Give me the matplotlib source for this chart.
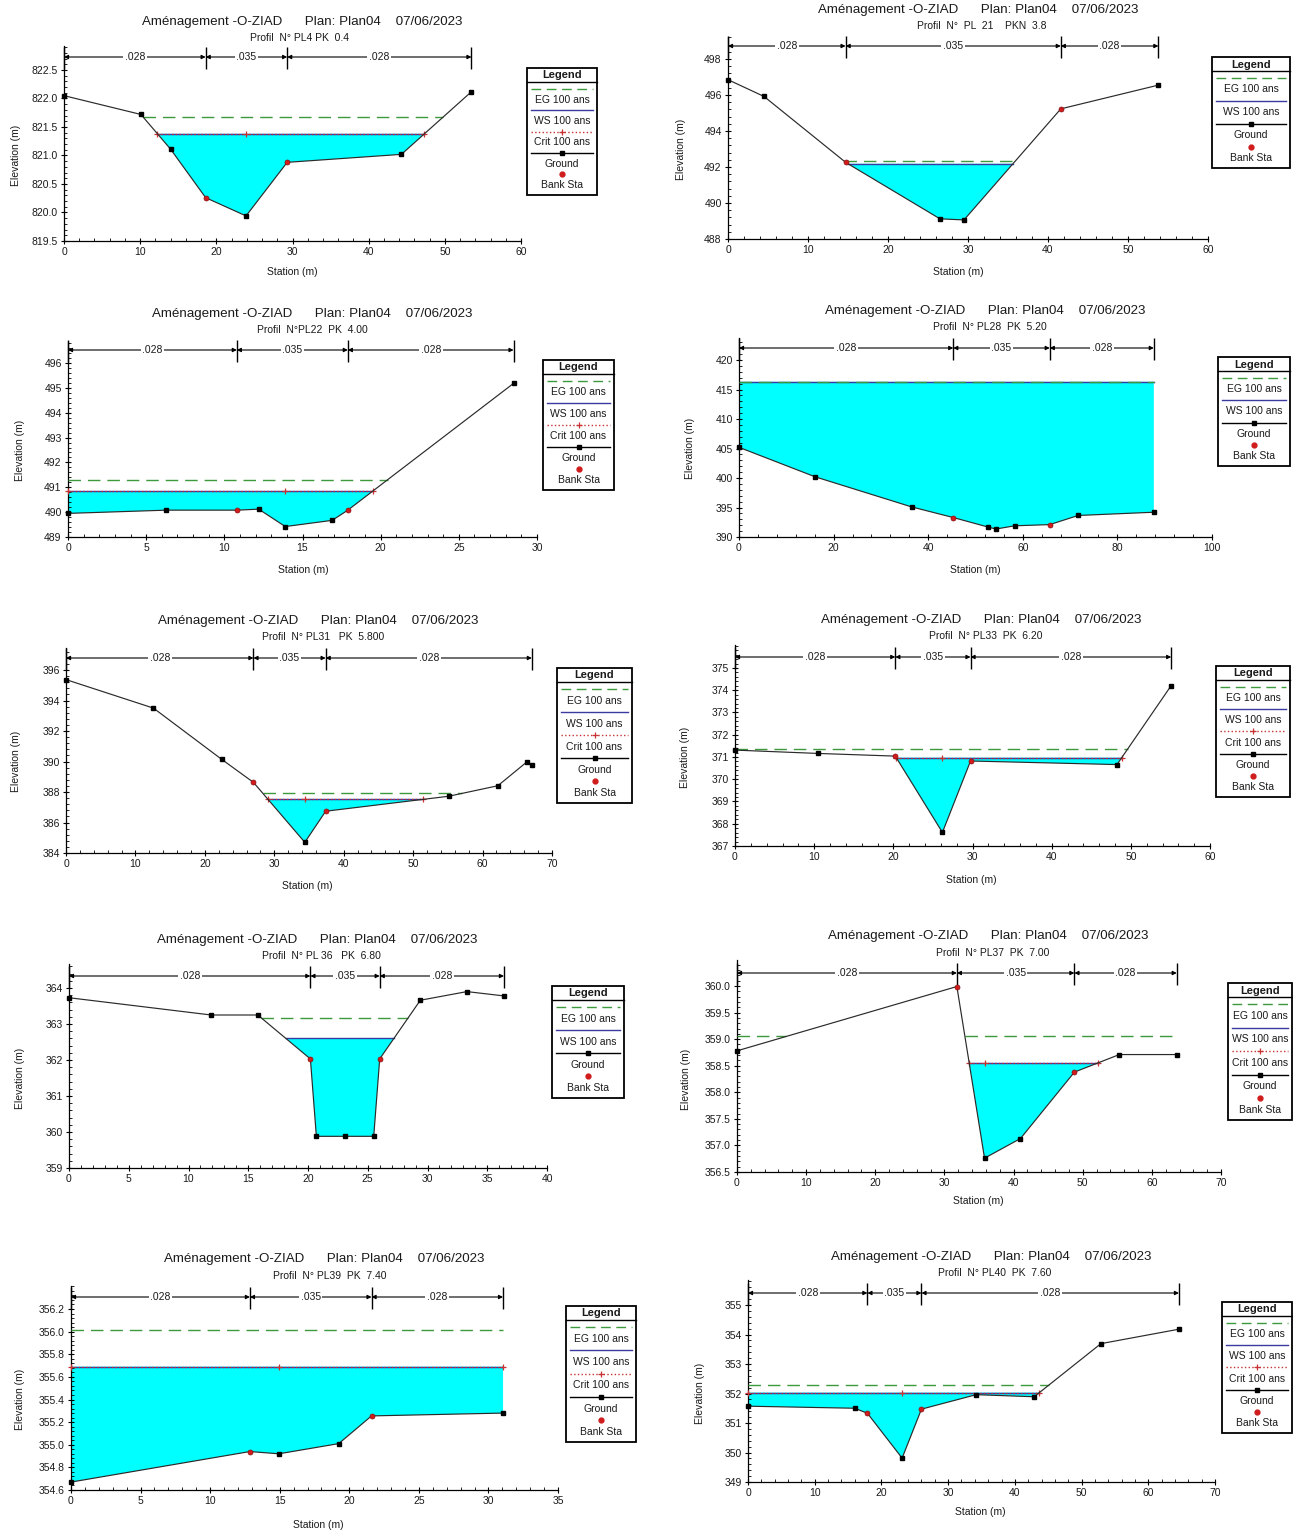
import numpy as np
import matplotlib
matplotlib.use('Agg')
import matplotlib.pyplot as plt
from matplotlib.ticker import AutoMinorLocator, FormatStrFormatter
from matplotlib.patches import Rectangle
from matplotlib import font_manager

W, H = 1293, 1531
names = {f.name for f in font_manager.fontManager.ttflist}
FONT = 'Liberation Sans Narrow' if 'Liberation Sans Narrow' in names else 'Liberation Sans'
plt.rcParams['font.family'] = [FONT, 'DejaVu Sans']

TITLE = "Aménagement -O-ZIAD      Plan: Plan04    07/06/2023"
N_LABELS = ['.028', '.035', '.028']

# ---------------- data ----------------
p1_station = [0, 10.1, 14.0, 18.6, 23.9, 29.3, 44.3, 53.5]
p1_elev = [822.05, 821.72, 821.11, 820.26, 819.94, 820.88, 821.02, 822.12]
p1_banks = [18.6, 29.3]
p1_eg, p1_ws, p1_crit = 821.68, 821.38, 821.38
p1_sub = "Profil  N° PL4 PK  0.4"
p1_xticks = [0, 10, 20, 30, 40, 50, 60]
p1_yticks = [819.5, 820.0, 820.5, 821.0, 821.5, 822.0, 822.5]

p2_station = [0, 4.5, 14.7, 26.5, 29.5, 41.6, 53.8]
p2_elev = [496.85, 495.92, 492.26, 489.12, 489.06, 495.23, 496.55]
p2_banks = [14.7, 41.6]
p2_eg, p2_ws, p2_crit = 492.31, 492.18, None
p2_sub = "Profil  N°  PL  21    PKN  3.8"
p2_xticks = [0, 10, 20, 30, 40, 50, 60]
p2_yticks = [488, 490, 492, 494, 496, 498]

p3_station = [0, 6.3, 10.8, 12.2, 13.9, 16.9, 17.9, 28.5]
p3_elev = [489.95, 490.08, 490.08, 490.12, 489.42, 489.67, 490.08, 495.18]
p3_banks = [10.8, 17.9]
p3_eg, p3_ws, p3_crit = 491.31, 490.84, 490.84
p3_sub = "Profil  N°PL22  PK  4.00"
p3_xticks = [0, 5, 10, 15, 20, 25, 30]
p3_yticks = [489, 490, 491, 492, 493, 494, 495, 496]

p4_station = [0, 16.1, 36.5, 45.3, 52.6, 54.3, 58.3, 65.7, 71.7, 87.7]
p4_elev = [405.2, 400.2, 395.1, 393.3, 391.7, 391.35, 391.9, 392.1, 393.65, 394.2]
p4_banks = [45.3, 65.7]
p4_eg, p4_ws, p4_crit = 416.35, 416.3, None
p4_sub = "Profil  N° PL28  PK  5.20"
p4_xticks = [0, 20, 40, 60, 80, 100]
p4_yticks = [390, 395, 400, 405, 410, 415, 420]

p5_station = [0, 12.6, 22.4, 27.0, 34.4, 37.4, 55.1, 62.2, 66.4, 67.1]
p5_elev = [395.37, 393.5, 390.15, 388.63, 384.7, 386.74, 387.72, 388.41, 389.98, 389.8]
p5_banks = [27.0, 37.4]
p5_eg, p5_ws, p5_crit = 387.91, 387.52, 387.52
p5_sub = "Profil  N° PL31   PK  5.800"
p5_xticks = [0, 10, 20, 30, 40, 50, 60, 70]
p5_yticks = [384, 386, 388, 390, 392, 394, 396]

p6_station = [0, 10.5, 20.25, 26.2, 29.75, 48.25, 55.1]
p6_elev = [371.31, 371.16, 371.04, 367.61, 370.82, 370.66, 374.21]
p6_banks = [20.25, 29.75]
p6_eg, p6_ws, p6_crit = 371.36, 370.97, 370.97
p6_sub = "Profil  N° PL33  PK  6.20"
p6_xticks = [0, 10, 20, 30, 40, 50, 60]
p6_yticks = [367, 368, 369, 370, 371, 372, 373, 374, 375]

p7_station = [0, 11.9, 15.8, 20.2, 20.7, 23.1, 25.5, 26.0, 29.4, 33.3, 36.4]
p7_elev = [363.73, 363.25, 363.25, 362.03, 359.88, 359.88, 359.88, 362.03, 363.66, 363.9, 363.78]
p7_banks = [20.2, 26.0]
p7_eg, p7_ws, p7_crit = 363.17, 362.6, None
p7_sub = "Profil  N° PL 36   PK  6.80"
p7_xticks = [0, 5, 10, 15, 20, 25, 30, 35, 40]
p7_yticks = [359, 360, 361, 362, 363, 364]

p8_station = [0, 31.8, 35.8, 41.0, 48.8, 55.3, 63.6]
p8_elev = [358.78, 359.99, 356.76, 357.13, 358.38, 358.71, 358.71]
p8_banks = [31.8, 48.8]
p8_eg, p8_ws, p8_crit = 359.05, 358.55, 358.55
p8_sub = "Profil  N° PL37  PK  7.00"
p8_xticks = [0, 10, 20, 30, 40, 50, 60, 70]
p8_yticks = [356.5, 357.0, 357.5, 358.0, 358.5, 359.0, 359.5, 360.0]

p9_station = [0, 12.86, 14.94, 19.24, 21.6, 31.05]
p9_elev = [354.67, 354.94, 354.92, 355.01, 355.255, 355.28]
p9_banks = [12.86, 21.6]
p9_eg, p9_ws, p9_crit = 356.01, 355.69, 355.69
p9_sub = "Profil  N° PL39  PK  7.40"
p9_xticks = [0, 5, 10, 15, 20, 25, 30, 35]
p9_yticks = [354.6, 354.8, 355.0, 355.2, 355.4, 355.6, 355.8, 356.0, 356.2]

p10_station = [0, 16.0, 17.9, 23.1, 26.0, 34.2, 42.9, 52.9, 64.6]
p10_elev = [351.57, 351.5, 351.33, 349.81, 351.47, 351.96, 351.89, 353.69, 354.18]
p10_banks = [17.9, 26.0]
p10_eg, p10_ws, p10_crit = 352.30, 352.03, 352.03
p10_sub = "Profil  N° PL40  PK  7.60"
p10_xticks = [0, 10, 20, 30, 40, 50, 60, 70]
p10_yticks = [349, 350, 351, 352, 353, 354, 355]

PANELS = [
    (p1_station, p1_elev, p1_banks, p1_eg, p1_ws, p1_crit, p1_sub, p1_xticks, p1_yticks, '%.1f'),
    (p2_station, p2_elev, p2_banks, p2_eg, p2_ws, p2_crit, p2_sub, p2_xticks, p2_yticks, '%d'),
    (p3_station, p3_elev, p3_banks, p3_eg, p3_ws, p3_crit, p3_sub, p3_xticks, p3_yticks, '%d'),
    (p4_station, p4_elev, p4_banks, p4_eg, p4_ws, p4_crit, p4_sub, p4_xticks, p4_yticks, '%d'),
    (p5_station, p5_elev, p5_banks, p5_eg, p5_ws, p5_crit, p5_sub, p5_xticks, p5_yticks, '%d'),
    (p6_station, p6_elev, p6_banks, p6_eg, p6_ws, p6_crit, p6_sub, p6_xticks, p6_yticks, '%d'),
    (p7_station, p7_elev, p7_banks, p7_eg, p7_ws, p7_crit, p7_sub, p7_xticks, p7_yticks, '%d'),
    (p8_station, p8_elev, p8_banks, p8_eg, p8_ws, p8_crit, p8_sub, p8_xticks, p8_yticks, '%.1f'),
    (p9_station, p9_elev, p9_banks, p9_eg, p9_ws, p9_crit, p9_sub, p9_xticks, p9_yticks, '%.1f'),
    (p10_station, p10_elev, p10_banks, p10_eg, p10_ws, p10_crit, p10_sub, p10_xticks, p10_yticks, '%d'),
]

# ---------------- layout (pixels) ----------------
LAYOUT = [
    dict(L=64, R=521, B=241, Tt=70, Top=46, arrow=57, title=(302, 22), sub=(300, 38), elev_x=16, stat=(292, 272), legend=(527, 597, 68, 195)),
    dict(L=728, R=1208, B=239, Tt=59, Top=37, arrow=46, title=(978, 10), sub=(982, 26), elev_x=681, stat=(958, 272), legend=(1212, 1290, 57, 168)),
    dict(L=68, R=537, B=537, Tt=363, Top=342, arrow=350, title=(312, 314), sub=(312, 330), elev_x=20, stat=(303, 570), legend=(543, 614, 360, 490)),
    dict(L=739, R=1212, B=537, Tt=360, Top=338, arrow=348, title=(985, 311), sub=(990, 327), elev_x=690, stat=(975, 570), legend=(1218, 1290, 357, 466)),
    dict(L=66, R=552, B=853, Tt=670, Top=648, arrow=658, title=(318, 621), sub=(323, 637), elev_x=16, stat=(307, 886), legend=(557, 632, 668, 803)),
    dict(L=735, R=1210, B=846, Tt=668, Top=645, arrow=657, title=(981, 620), sub=(986, 636), elev_x=685, stat=(971, 880), legend=(1216, 1290, 666, 797)),
    dict(L=69, R=547, B=1168, Tt=988, Top=964, arrow=976, title=(317, 940), sub=(321, 956), elev_x=20, stat=None, legend=(552, 624, 986, 1098)),
    dict(L=737, R=1221, B=1172, Tt=986, Top=960, arrow=973, title=(988, 936), sub=(993, 953), elev_x=686, stat=(978, 1201), legend=(1228, 1292, 983, 1120)),
    dict(L=71, R=558, B=1490, Tt=1309, Top=1286, arrow=1297, title=(324, 1259), sub=(330, 1276), elev_x=20, stat=(318, 1525), legend=(566, 636, 1306, 1442)),
    dict(L=748, R=1215, B=1482, Tt=1305, Top=1280, arrow=1293, title=(991, 1257), sub=(995, 1273), elev_x=700, stat=(980, 1512), legend=(1222, 1292, 1302, 1433)),
]

C_WATER = '#00FFFF'
C_EG = '#3C9A3C'
C_WS = '#3A3AA0'
C_CRIT = '#C83232'
C_BANK = '#D01C1C'
C_TXT = '#1a1a1a'


def wet_regions(x, g, lev):
    regions = []
    cur = None
    for i in range(len(x)):
        wet = g[i] < lev
        if i > 0:
            wprev = g[i - 1] < lev
            if wet != wprev:
                t = (lev - g[i - 1]) / (g[i] - g[i - 1])
                xc = x[i - 1] + t * (x[i] - x[i - 1])
                if wet:
                    cur = [(xc, lev)]
                else:
                    cur.append((xc, lev))
                    regions.append(cur)
                    cur = None
        if wet:
            if cur is None:
                cur = [(x[i], lev)]
            cur.append((x[i], g[i]))
    if cur is not None:
        cur.append((x[-1], lev))
        regions.append(cur)
    return regions


fig = plt.figure(figsize=(W / 100, H / 100), dpi=100)
fig.patch.set_facecolor('white')
ov = fig.add_axes([0, 0, 1, 1])
ov.set_xlim(0, W)
ov.set_ylim(H, 0)
ov.axis('off')


def draw_legend(box, has_crit):
    x0, x1, y0, y1 = box
    ov.add_patch(Rectangle((x0, y0), x1 - x0, y1 - y0, fill=False, ec='black', lw=1.3))
    cx = (x0 + x1) / 2
    ov.text(cx, y0 + 7.5, 'Legend', fontsize=8, weight='bold', ha='center', va='center', color=C_TXT)
    sep = y0 + 14
    ov.plot([x0, x1], [sep, sep], color='black', lw=1)
    items = [('EG 100 ans', 'eg'), ('WS 100 ans', 'ws')]
    if has_crit:
        items.append(('Crit 100 ans', 'crit'))
    items += [('Ground', 'ground'), ('Bank Sta', 'bank')]
    nrows = 2 * len(items)
    start, end = sep + 7, y1 - 10
    step = (end - start) / (nrows - 1)
    xs = [x0 + 4, x1 - 4]
    for k, (lab, kind) in enumerate(items):
        ys = start + 2 * k * step
        yt = ys + step
        if kind == 'eg':
            ov.plot(xs, [ys, ys], color=C_EG, lw=1, dashes=(7, 4))
        elif kind == 'ws':
            ov.plot(xs, [ys, ys], color=C_WS, lw=1)
        elif kind == 'crit':
            ov.plot(xs, [ys, ys], color=C_CRIT, lw=1, ls=':')
            ov.plot([cx], [ys], marker='+', color=C_CRIT, ms=5, mew=0.9)
        elif kind == 'ground':
            ov.plot(xs, [ys, ys], color='black', lw=1)
            ov.plot([cx], [ys], marker='s', color='black', ms=3.3)
        elif kind == 'bank':
            ov.plot([cx], [ys], marker='o', color=C_BANK, ms=3.5)
        ov.text(cx, yt, lab, fontsize=7.5, ha='center', va='center', color=C_TXT)


for (st, el, banks, eg, ws, crit, sub, xt, yt, fmt), lay in zip(PANELS, LAYOUT):
    x = np.asarray(st, float)
    g = np.asarray(el, float)
    L, R, B, Tt, Top = lay['L'], lay['R'], lay['B'], lay['Tt'], lay['Top']
    ax = fig.add_axes([L / W, 1 - B / H, (R - L) / W, (B - Top) / H])
    ax.patch.set_alpha(0)
    perpx = (yt[-1] - yt[0]) / (B - Tt)
    ymax = yt[0] + (B - Top) * perpx
    ax.set_xlim(xt[0], xt[-1])
    ax.set_ylim(yt[0], ymax)
    ax.set_xticks(xt)
    ax.set_yticks(yt)
    ax.yaxis.set_major_formatter(FormatStrFormatter(fmt))
    ax.xaxis.set_minor_locator(AutoMinorLocator(5))
    ax.yaxis.set_minor_locator(AutoMinorLocator(5))
    ax.tick_params(which='major', direction='inout', length=5, width=0.8, labelsize=7.5, pad=2, colors='black', labelcolor=C_TXT)
    ax.tick_params(which='minor', direction='in', length=2.5, width=0.6)
    for s in ('top', 'right'):
        ax.spines[s].set_visible(False)
    for s in ('left', 'bottom'):
        ax.spines[s].set_linewidth(0.9)

    # water
    for reg in wet_regions(x, g, ws):
        px, py = zip(*reg)
        ax.fill(px, py, color=C_WATER, lw=0, zorder=1)
        ax.plot([px[0], px[-1]], [ws, ws], color=C_WS, lw=1, zorder=2)
    # energy grade
    for reg in wet_regions(x, g, eg):
        ax.plot([reg[0][0], reg[-1][0]], [eg, eg], color=C_EG, lw=1, dashes=(9, 5), zorder=3)
    # critical
    if crit is not None:
        inch = (x >= banks[0]) & (x <= banks[1])
        thal = x[inch][np.argmin(g[inch])]
        for reg in wet_regions(x, g, crit):
            a, b = reg[0][0], reg[-1][0]
            ax.plot([a, b], [crit, crit], color=C_CRIT, lw=1, ls=':', zorder=3)
            mk = [a, b] + ([thal] if a < thal < b else [])
            ax.plot(mk, [crit] * len(mk), ls='none', marker='+', color=C_CRIT, ms=5, mew=0.9, zorder=3, clip_on=False)
    # ground
    ax.plot(x, g, color='#2a2a2a', lw=0.85, zorder=4)
    nb = ~np.isin(x, banks)
    ax.plot(x[nb], g[nb], ls='none', marker='s', color='black', ms=3.3, zorder=5, clip_on=False)
    ax.plot(banks, np.interp(banks, x, g), ls='none', marker='o', color=C_BANK, ms=3.6, mec='#8a1010', mew=0.5,
            zorder=6, clip_on=False)

    # n-value arrows
    tr = ax.get_xaxis_transform()
    bounds = [x[0], banks[0], banks[1], x[-1]]
    fy = (B - lay['arrow']) / (B - Top)
    fa = (B - (lay['arrow'] - 10)) / (B - Top)
    fb = (B - (lay['arrow'] + 12)) / (B - Top)
    ax.vlines(bounds, fb, fa, transform=tr, color='black', lw=1, clip_on=False)
    for i, lab in enumerate(N_LABELS):
        ax.annotate('', xy=(bounds[i + 1], fy), xytext=(bounds[i], fy), xycoords=tr, textcoords=tr,
                    arrowprops=dict(arrowstyle='<|-|>', color='black', lw=0.8, mutation_scale=6,
                                    shrinkA=0, shrinkB=0), annotation_clip=False)
        ax.text((bounds[i] + bounds[i + 1]) / 2, fy, lab, transform=tr, fontsize=7.5, ha='center', va='center',
                color=C_TXT, bbox=dict(fc='white', ec='none', pad=1.2), zorder=7)

    # texts
    ov.text(lay['title'][0], lay['title'][1], TITLE, fontsize=9.6, ha='center', va='center', color=C_TXT)
    ov.text(lay['sub'][0], lay['sub'][1], sub, fontsize=7.5, ha='center', va='center', color=C_TXT)
    ov.text(lay['elev_x'], (Tt + B) / 2, 'Elevation (m)', fontsize=7.5, rotation=90, ha='center', va='center', color=C_TXT)
    if lay['stat'] is not None:
        ov.text(lay['stat'][0], lay['stat'][1], 'Station (m)', fontsize=7.5, ha='center', va='center', color=C_TXT)
    draw_legend(lay['legend'], crit is not None)

fig.savefig('out.png', dpi=100, facecolor='white')
